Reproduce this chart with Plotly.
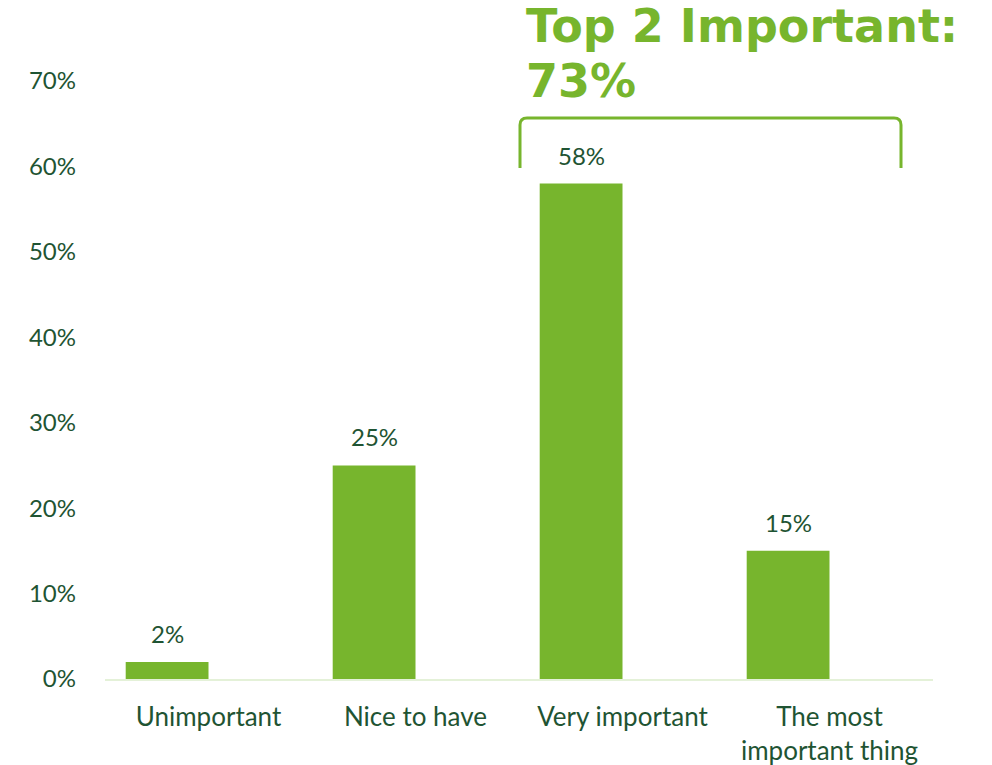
import plotly.graph_objects as go

# Survey results
categories = ["Unimportant", "Nice to have", "Very important", "The most<br>important thing"]
shares = [0.02, 0.25, 0.58, 0.15]
y_ticks = [0, 0.1, 0.2, 0.3, 0.4, 0.5, 0.6, 0.7]
y_tick_labels = ["0%", "10%", "20%", "30%", "40%", "50%", "60%", "70%"]
headline = ["Top 2 Important:", "73%"]

BAR_GREEN = "#77B52D"
TEXT_GREEN = "#1F5433"
AXIS_GREEN = "#E4F1D8"
FONT = "Lato"

W, H = 992, 765
L, R, T, B = 105, 59, 81, 86
PW, PH = W - L - R, H - T - B


def px(x):
    return (x - L) / PW


def py(y):
    return (H - B - y) / PH


xs = list(range(len(categories)))

fig = go.Figure()
fig.add_trace(go.Bar(
    x=xs,
    y=shares,
    width=0.4,
    offset=-0.4,
    marker=dict(color=BAR_GREEN, line=dict(width=0)),
    hoverinfo="skip",
))

# value labels above each bar
for xi, v in zip(xs, shares):
    fig.add_annotation(
        x=xi - 0.2, y=v, xref="x", yref="y",
        text=f"{v * 100:.0f}%", showarrow=False,
        yanchor="bottom", yshift=12,
        font=dict(family=FONT, size=24, color=TEXT_GREEN),
    )

# bracket over the top two categories
x0, x1, ytop, ybot, rr = px(520), px(901), py(118), py(168), 7
path = (
    f"M {x0} {ybot} L {x0} {py(118 + rr)} "
    f"Q {x0} {ytop} {px(520 + rr)} {ytop} "
    f"L {px(901 - rr)} {ytop} "
    f"Q {x1} {ytop} {x1} {py(118 + rr)} "
    f"L {x1} {ybot}"
)
fig.add_shape(type="path", path=path, xref="paper", yref="paper",
              line=dict(color=BAR_GREEN, width=3))

# headline, one annotation per line
for line, bottom in zip(headline, [55, 110]):
    fig.add_annotation(x=px(524), y=py(bottom), xref="paper", yref="paper",
                       text=f"<b>{line}</b>", showarrow=False,
                       xanchor="left", yanchor="bottom",
                       font=dict(family="DejaVu Sans", size=46, color=BAR_GREEN))

fig.update_layout(
    width=W, height=H,
    margin=dict(l=L, r=R, t=T, b=B, autoexpand=False),
    paper_bgcolor="white", plot_bgcolor="white",
    showlegend=False,
    font=dict(family=FONT, color=TEXT_GREEN),
    xaxis=dict(
        range=[-0.5, len(categories) - 0.5],
        tickmode="array", tickvals=xs, ticktext=categories,
        showgrid=False, zeroline=False, ticks="",
        showline=True, linecolor=AXIS_GREEN, linewidth=2,
        tickfont=dict(family=FONT, size=26, color=TEXT_GREEN),
        ticklabelstandoff=14, automargin=False,
    ),
    yaxis=dict(
        range=[0, 0.7],
        tickmode="array", tickvals=y_ticks, ticktext=y_tick_labels,
        showgrid=False, zeroline=False, showline=False, ticks="",
        tickfont=dict(family=FONT, size=24, color=TEXT_GREEN),
        ticklabelstandoff=28, automargin=False,
    ),
)

fig.write_html("out.html")
